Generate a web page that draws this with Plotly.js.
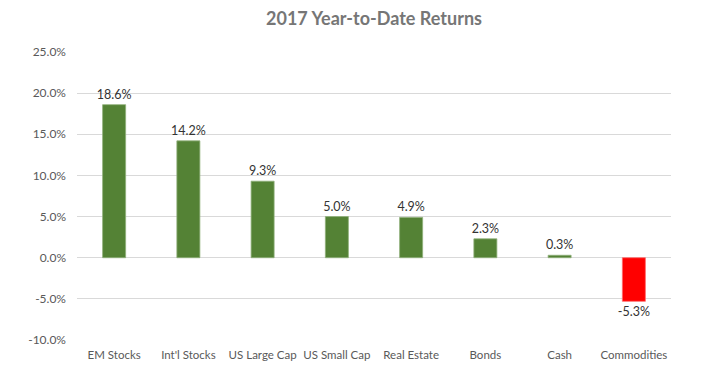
<!DOCTYPE html>
<html>
<head>
<meta charset="utf-8">
<script src="https://cdn.plot.ly/plotly-3.0.1.min.js"></script>
<style>html,body{margin:0;padding:0;background:#fff;}#chart{width:713px;height:383px;}</style>
</head>
<body>
<div id="chart"></div>
<script>
const categories = ["EM Stocks", "Int'l Stocks", "US Large Cap", "US Small Cap", "Real Estate", "Bonds", "Cash", "Commodities"];
const returns = [18.6, 14.2, 9.3, 5.0, 4.9, 2.3, 0.3, -5.3];
const yTicks = [-10, -5, 0, 5, 10, 15, 20, 25];

const colors = returns.map(v => v < 0 ? "#FF0000" : "#548235");
const lineColors = returns.map(v => v < 0 ? "#FF6B6B" : "#8FB07A");

const font = "Lato, 'Open Sans', sans-serif";

Plotly.newPlot("chart", [{
  type: "bar",
  x: categories,
  y: returns,
  marker: {color: colors, line: {color: lineColors, width: 0.8}},
  width: 0.31,
  text: returns.map(v => v.toFixed(1) + "%"),
  textposition: "outside",
  constraintext: "none",
  textfont: {family: font, size: 12.5, color: "#333333"},
  cliponaxis: false,
  hoverinfo: "skip"
}], {
  width: 713, height: 383,
  margin: {l: 77, r: 42, t: 52, b: 43},
  paper_bgcolor: "#fff", plot_bgcolor: "#fff",
  title: {text: "<b>2017 Year-to-Date Returns</b>", x: 0.5, xref: "paper", y: 0.95, yref: "container", yanchor: "middle",
          font: {family: font, size: 18, color: "#767676"}},
  font: {family: font},
  xaxis: {type: "category", showgrid: false, zeroline: false, showline: false, ticks: "",
          tickfont: {family: font, size: 11.5, color: "#595959"}, side: "bottom", anchor: "y", ticklabelstandoff: 6},
  yaxis: {range: [-10, 25], tickvals: yTicks, ticktext: yTicks.map(v => v.toFixed(1) + "%"),
          showgrid: true, gridcolor: "#D9D9D9", gridwidth: 1, zeroline: false, showline: false, ticks: "",
          tickfont: {family: font, size: 12, color: "#595959"}, ticklabelstandoff: 10},
  showlegend: false,
  bargap: 0.69
}, {staticPlot: true, displayModeBar: false});
</script>
</body>
</html>
